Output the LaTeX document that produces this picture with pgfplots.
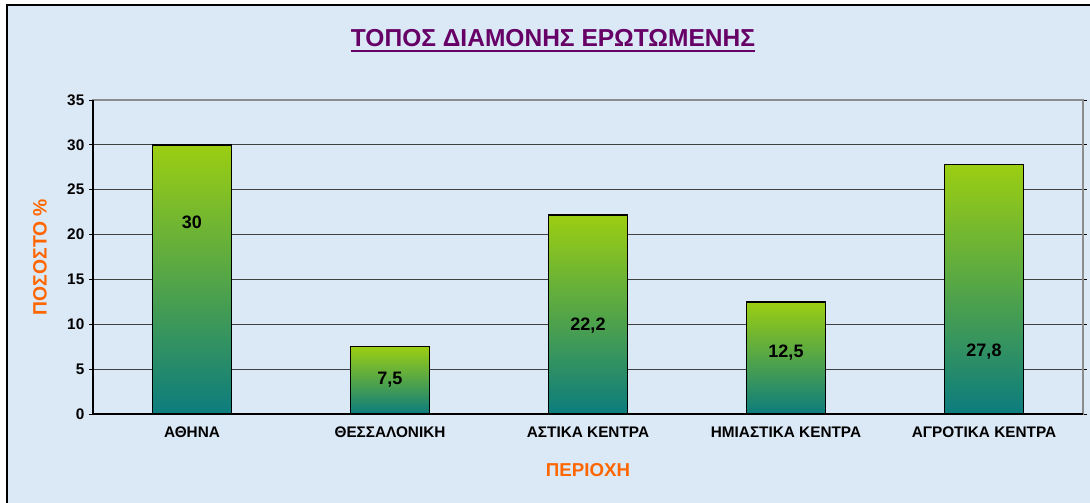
\documentclass[border=0pt]{standalone}
\usepackage{pgfplots}
\pgfplotsset{compat=1.18}
\usepackage{fontspec}
\setmainfont{Liberation Sans}
\definecolor{bgblue}{RGB}{219,232,246}
\definecolor{titlepurple}{RGB}{102,0,102}
\definecolor{lblorange}{RGB}{255,102,0}
\definecolor{bartop}{RGB}{155,206,18}
\definecolor{barmid}{RGB}{108,168,84}
\definecolor{barbot}{RGB}{12,124,126}
\pgfplotsset{bstyle/.style={ybar, bar width=59.25pt, draw=black, line width=1.1pt,
    top color=bartop, middle color=barmid, bottom color=barbot}}
\begin{document}
\begin{tikzpicture}
\useasboundingbox (-69.75pt,-66.75pt) rectangle (747.75pt,310.5pt);
\fill[white] (-69.75pt,-66.75pt) rectangle (747.75pt,310.5pt);
\fill[bgblue] (-64.5pt,-66.75pt) rectangle (747.75pt,306.75pt);
\draw[black, line width=1.5pt] (-64.5pt,-66.75pt) -- (-64.5pt,306.75pt) -- (747.75pt,306.75pt);
\begin{axis}[
  at={(0,0)}, anchor=south west,
  scale only axis,
  width=742.5pt, height=235.5pt,
  xmin=-0.5, xmax=4.5,
  ymin=0, ymax=35,
  ytick={0,5,...,35},
  xtick={0,1,2,3,4},
  xticklabels={ΑΘΗΝΑ, ΘΕΣΣΑΛΟΝΙΚΗ, ΑΣΤΙΚΑ ΚΕΝΤΡΑ, ΗΜΙΑΣΤΙΚΑ ΚΕΝΤΡΑ, ΑΓΡΟΤΙΚΑ ΚΕΝΤΡΑ},
  minor xtick={-0.5,0.5,...,4.5},
  xtick style={draw=none},
  minor x tick style={black, line width=0.6pt},
  y tick style={black, line width=0.6pt},
  tick align=outside,
  major tick length=3pt, minor tick length=3pt,
  ymajorgrids,
  grid style={black!75, line width=0.7pt},
  axis line style={black!45, line width=0.8pt},
  /pgf/number format/assume math mode=true,
  yticklabel style={font=\bfseries\fontsize{11.5}{13}\selectfont},
  xticklabel style={yshift=-3pt, font=\bfseries\fontsize{11.5}{13}\selectfont},
  xlabel={ΠΕΡΙΟΧΗ},
  ylabel={ΠΟΣΟΣΤΟ \%},
  every axis x label/.style={at={(axis description cs:0.5,0)}, anchor=center, yshift=-42pt, font=\bfseries\fontsize{14}{16}\selectfont, text=lblorange},
  every axis y label/.style={at={(axis description cs:-0.0535,0.5)}, anchor=center, rotate=90, font=\bfseries\fontsize{14.5}{16}\selectfont, text=lblorange},
  clip=false,
]
\addplot[bstyle] coordinates {(0,30)};
\addplot[bstyle] coordinates {(1,7.5)};
\addplot[bstyle] coordinates {(2,22.2)};
\addplot[bstyle] coordinates {(3,12.5)};
\addplot[bstyle] coordinates {(4,27.8)};
\draw[black, line width=0.9pt] (axis cs:-0.5,35) -- (axis cs:-0.5,0) -- (axis cs:4.5,0);
\begin{scope}[every node/.style={font=\bfseries\fontsize{13.5}{15}\selectfont}]
\node at (axis cs:0,21.4) {30};
\node at (axis cs:1,3.8) {7,5};
\node at (axis cs:2,9.9) {22,2};
\node at (axis cs:3,6.8) {12,5};
\node at (axis cs:4,6.9) {27,8};
\end{scope}
\end{axis}
\node[inner sep=0pt, font=\bfseries\fontsize{18.4}{20}\selectfont, text=titlepurple] (t) at (345pt,282pt) {ΤΟΠΟΣ ΔΙΑΜΟΝΗΣ ΕΡΩΤΩΜΕΝΗΣ};
\draw[titlepurple, line width=1.9pt] ([yshift=-3pt]t.south west) -- ([yshift=-3pt]t.south east);
\end{tikzpicture}
\end{document}
